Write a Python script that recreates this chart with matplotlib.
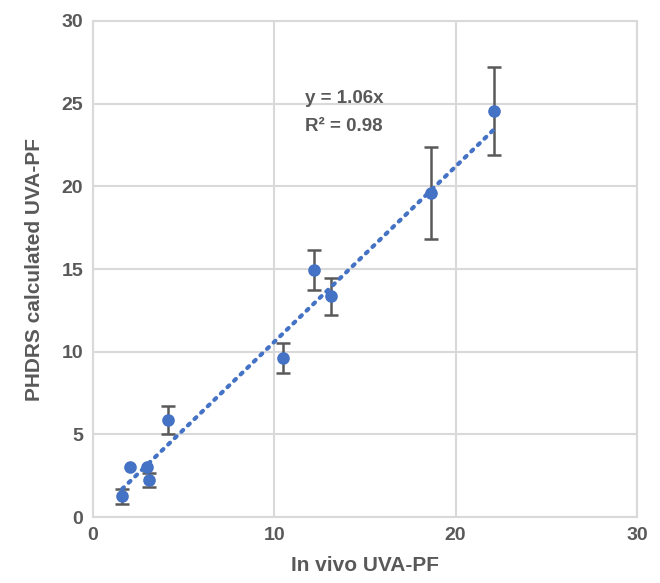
import numpy as np
import matplotlib.pyplot as plt

# data
in_vivo = [1.6, 2.05, 2.98, 3.1, 4.15, 10.5, 12.2, 13.1, 18.65, 22.1]
phdrs = [1.27, 3.02, 3.02, 2.25, 5.87, 9.6, 14.95, 13.35, 19.6, 24.55]
phdrs_err = [0.45, 0.0, 0.0, 0.4, 0.85, 0.9, 1.2, 1.1, 2.8, 2.65]
slope = 1.06
r2 = 0.98

plt.rcParams['font.family'] = ['Liberation Sans', 'DejaVu Sans']
grey = '#595959'
blue = '#4472C4'

fig = plt.figure(figsize=(6.6, 5.83), dpi=100)
ax = fig.add_axes([0.141, 0.113, 0.824, 0.851])

# only draw bars where there is an error
has_err = [i for i, e in enumerate(phdrs_err) if e > 0]
ax.errorbar([in_vivo[i] for i in has_err], [phdrs[i] for i in has_err],
            yerr=[phdrs_err[i] for i in has_err], fmt='none', ecolor=grey,
            elinewidth=1.8, capsize=5, capthick=1.8, zorder=2)
ax.scatter(in_vivo, phdrs, s=65, color=blue, zorder=3)

xs = np.array([min(in_vivo), max(in_vivo)])
ax.plot(xs, slope * xs, linestyle=(0, (0.6, 1.6)), color=blue, linewidth=3,
        dash_capstyle='round', zorder=2.5)

ax.text(11.7, 25.85, f'y = {slope}x\nR² = {r2}', fontsize=13.5, fontweight='bold',
        color=grey, va='top', ha='left', linespacing=1.9)

ax.set_xlim(0, 30)
ax.set_ylim(0, 30)
ax.set_xticks([0, 10, 20, 30])
ax.set_yticks([0, 5, 10, 15, 20, 25, 30])
ax.grid(True, color='#d9d9d9', linewidth=1.5)
ax.set_axisbelow(True)
for s in ax.spines.values():
    s.set_color('#d9d9d9')
    s.set_linewidth(1.5)
ax.tick_params(length=0, labelsize=14, labelcolor=grey, pad=7)
for lab in ax.get_xticklabels() + ax.get_yticklabels():
    lab.set_fontweight('bold')

ax.set_xlabel('In vivo UVA-PF', fontsize=15, fontweight='bold', color=grey, labelpad=9)
ax.set_ylabel('PHDRS calculated UVA-PF', fontsize=15, fontweight='bold', color=grey, labelpad=13)

fig.savefig('out.png', dpi=100)
